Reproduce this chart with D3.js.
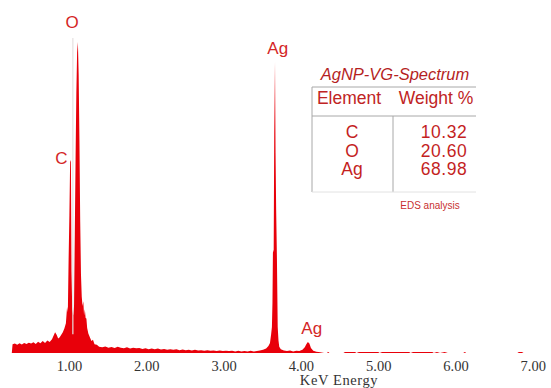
<!DOCTYPE html>
<html>
<head>
<meta charset="utf-8">
<script src="https://cdn.jsdelivr.net/npm/d3@7"></script>
<style>
  body { margin: 0; background: #fff; }
  svg { display: block; }
</style>
</head>
<body>
<svg></svg>
<script>
// spectrum: [keV, counts]
const spectrum = [
  [0.26, 0], [0.27, 28], [0.30, 30], [0.33, 26], [0.36, 31], [0.39, 27], [0.42, 32],
  [0.45, 29], [0.48, 33], [0.51, 30], [0.54, 34], [0.57, 29], [0.60, 36], [0.63, 31],
  [0.66, 38], [0.69, 32], [0.72, 40], [0.75, 35], [0.78, 44], [0.80, 55], [0.82, 66],
  [0.84, 58], [0.86, 46], [0.88, 50], [0.90, 58], [0.92, 66], [0.94, 78], [0.96, 95],
  [0.975, 147], [0.985, 130], [0.995, 300], [1.005, 440], [1.015, 617], [1.025, 610],
  [1.032, 260], [1.042, 140], [1.055, 120], [1.065, 150], [1.075, 380], [1.085, 620],
  [1.095, 830], [1.105, 960], [1.115, 994], [1.125, 890], [1.135, 680], [1.145, 420],
  [1.155, 250], [1.165, 180], [1.175, 150], [1.185, 165], [1.195, 120], [1.205, 140],
  [1.215, 112], [1.225, 110], [1.235, 80], [1.25, 62], [1.27, 50], [1.29, 38],
  [1.31, 42], [1.33, 28], [1.36, 26], [1.39, 20], [1.43, 18], [1.47, 21], [1.51, 17],
  [1.55, 19], [1.59, 16], [1.63, 20], [1.67, 17], [1.71, 15], [1.75, 18], [1.79, 14],
  [1.83, 17], [1.87, 15], [1.91, 16], [1.95, 13], [1.99, 15], [2.03, 12], [2.07, 14],
  [2.11, 12], [2.15, 14], [2.19, 11], [2.23, 13], [2.27, 10], [2.31, 12], [2.35, 10],
  [2.39, 12], [2.43, 9], [2.47, 11], [2.51, 9], [2.55, 10], [2.59, 8], [2.63, 10],
  [2.67, 8], [2.71, 9], [2.75, 7], [2.79, 9], [2.83, 7], [2.87, 8], [2.91, 6],
  [2.95, 8], [2.99, 6], [3.03, 7], [3.07, 6], [3.11, 7], [3.15, 5], [3.19, 7],
  [3.23, 5], [3.27, 6], [3.31, 5], [3.35, 7], [3.39, 5], [3.43, 6], [3.47, 8],
  [3.51, 10], [3.55, 14], [3.58, 22], [3.60, 32], [3.615, 60], [3.625, 83],
  [3.632, 160], [3.638, 320], [3.648, 330], [3.655, 700], [3.665, 930], [3.672, 640],
  [3.68, 457], [3.69, 300], [3.70, 83], [3.71, 40], [3.72, 20], [3.74, 12], [3.78, 8],
  [3.82, 6], [3.86, 8], [3.90, 5], [3.94, 7], [3.98, 6], [4.02, 10], [4.05, 18],
  [4.07, 28], [4.09, 35], [4.11, 30], [4.13, 16], [4.16, 7], [4.20, 4], [4.25, 2],
  [4.30, 0], [4.34, 0], [4.35, 4], [4.37, 0], [4.55, 0], [4.57, 3], [4.70, 3],
  [4.72, 0], [4.75, 3], [5.00, 3], [5.02, 0], [5.05, 3], [5.40, 3], [5.42, 0],
  [5.45, 3], [5.70, 3], [5.72, 0], [5.76, 3], [5.80, 0], [5.86, 3], [5.90, 0],
  [6.10, 0], [6.12, 3], [6.14, 0], [6.80, 0], [6.82, 3], [6.86, 3], [6.88, 0]
];

const ticks = [1, 2, 3, 4, 5, 6, 7];

// peak labels: element, keV, counts at label baseline
const peakLabels = [
  {el: "O",  kev: 1.04, c: 1038},
  {el: "C",  kev: 0.90, c: 605},
  {el: "Ag", kev: 3.70, c: 955},
  {el: "Ag", kev: 4.14, c: 60}
];

const tableTitle = "AgNP-VG-Spectrum";
const tableHeader = ["Element", "Weight %"];
const elements = ["C", "O", "Ag"];
const weights = ["10.32", "20.60", "68.98"];
const tableNote = "EDS analysis";

const w = 551, h = 388;
const red = "#e8000a";
const textRed = "#d42626";

const svg = d3.select("svg").attr("width", w).attr("height", h);

const x = d3.scaleLinear().domain([0, 7]).range([-8.3, 532.8]);
const y = d3.scaleLinear().domain([0, 1000]).range([353, 40]);

const area = d3.area()
  .x(d => x(d[0]))
  .y0(y(0))
  .y1(d => y(d[1]));

svg.append("path")
   .datum(spectrum)
   .attr("fill", red)
   .attr("d", area);

// thin light line splitting the C and O peaks
svg.append("line")
   .attr("x1", x(1.05)).attr("x2", x(1.05))
   .attr("y1", y(1006)).attr("y2", y(60))
   .attr("stroke", "#e6e0e0")
   .attr("stroke-width", 1.2);

// x axis, labels only
const xAxis = d3.axisBottom(x)
  .tickValues(ticks)
  .tickFormat(d3.format(".2f"))
  .tickSize(0)
  .tickPadding(6);

const ax = svg.append("g")
  .attr("transform", "translate(0," + 355 + ")")
  .call(xAxis);
ax.select(".domain").remove();
ax.selectAll("text")
  .attr("font-family", "Liberation Serif, Times New Roman, serif")
  .attr("font-size", 14.5)
  .attr("fill", "#333");

svg.append("text")
   .text("KeV Energy")
   .attr("x", 339).attr("y", 385)
   .attr("text-anchor", "middle")
   .attr("font-family", "Liberation Serif, Times New Roman, serif")
   .attr("font-size", 14.5)
   .attr("letter-spacing", 0.6)
   .attr("fill", "#333");

svg.selectAll(".peak-label")
   .data(peakLabels)
   .enter()
   .append("text")
   .attr("class", "peak-label")
   .text(d => d.el)
   .attr("x", d => x(d.kev))
   .attr("y", d => y(d.c))
   .attr("text-anchor", "middle")
   .attr("font-family", "Liberation Sans, Arial, sans-serif")
   .attr("font-size", 17)
   .attr("fill", textRed);

// inset table
const tg = svg.append("g");
const tl = 312, tr = 476, tmid = 393;
const ttop = 87, thead = 116, tbot = 192;

tg.append("text")
  .text(tableTitle)
  .attr("x", (tl + tr) / 2 + 1).attr("y", 80)
  .attr("text-anchor", "middle")
  .attr("font-family", "Liberation Sans, Arial, sans-serif")
  .attr("font-style", "italic")
  .attr("font-size", 16.5)
  .attr("fill", "#b51f1f");

const lines = [
  [tl, ttop, tr, ttop],
  [tl, thead, tr, thead],
  [tl, ttop, tl, tbot],
  [tmid, thead, tmid, tbot],
  [tl, tbot, tr, tbot]
];
tg.selectAll("line")
  .data(lines)
  .enter()
  .append("line")
  .attr("x1", d => d[0]).attr("y1", d => d[1])
  .attr("x2", d => d[2]).attr("y2", d => d[3])
  .attr("stroke", (d, i) => i == 4 ? "#e2e2e2" : "#a8a8a8")
  .attr("stroke-width", 1);

tg.selectAll(".hdr")
  .data(tableHeader)
  .enter()
  .append("text")
  .attr("class", "hdr")
  .text(d => d)
  .attr("x", (d, i) => i == 0 ? 349 : 436)
  .attr("y", 104)
  .attr("text-anchor", "middle")
  .attr("font-family", "Liberation Sans, Arial, sans-serif")
  .attr("font-size", 17.5)
  .attr("fill", "#c02424");

const rowY = [138, 156.5, 175];
tg.selectAll(".el")
  .data(elements)
  .enter()
  .append("text")
  .attr("class", "el")
  .text(d => d)
  .attr("x", 352)
  .attr("y", (d, i) => rowY[i])
  .attr("text-anchor", "middle")
  .attr("font-family", "Liberation Sans, Arial, sans-serif")
  .attr("font-size", 17.5)
  .attr("fill", "#c41f1f");

tg.selectAll(".wt")
  .data(weights)
  .enter()
  .append("text")
  .attr("class", "wt")
  .text(d => d)
  .attr("x", 444)
  .attr("y", (d, i) => rowY[i])
  .attr("text-anchor", "middle")
  .attr("font-family", "Liberation Sans, Arial, sans-serif")
  .attr("font-size", 17.5)
  .attr("letter-spacing", 0.5)
  .attr("fill", "#c41f1f");

tg.append("text")
  .text(tableNote)
  .attr("x", 430).attr("y", 209)
  .attr("text-anchor", "middle")
  .attr("font-family", "Liberation Sans, Arial, sans-serif")
  .attr("font-size", 10)
  .attr("fill", "#c83030");
</script>
</body>
</html>
